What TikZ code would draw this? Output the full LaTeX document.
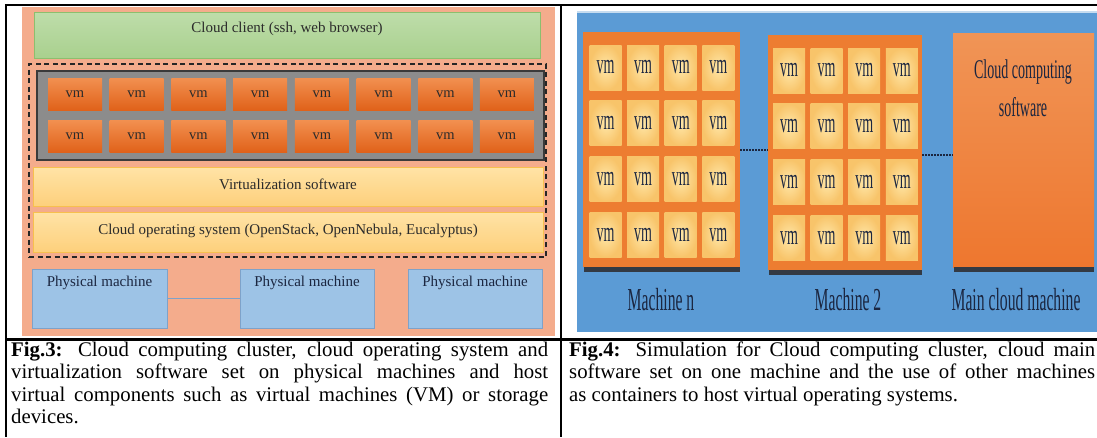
\documentclass[tikz,border=0pt]{standalone}
\usepackage{fontspec}
\setmainfont{Liberation Serif}
\definecolor{salmonc}{HTML}{F4AC8C}
\definecolor{greent}{HTML}{BEDDAA}
\definecolor{greenbt}{HTML}{A9D08E}
\definecolor{greenb}{HTML}{8CBF6E}
\definecolor{grayc}{HTML}{8C8C8C}
\definecolor{grayb}{HTML}{3A3A3A}
\definecolor{vmtop}{HTML}{F29050}
\definecolor{vmbot}{HTML}{E0621A}
\definecolor{yelt}{HTML}{FFE3A6}
\definecolor{yelb}{HTML}{FDD07C}
\definecolor{yelbd}{HTML}{F7C04E}
\definecolor{pmfill}{HTML}{9DC3E6}
\definecolor{pmb}{HTML}{7EA2C9}
\definecolor{bluec}{HTML}{5B9BD5}
\definecolor{orangec}{HTML}{ED7D31}
\definecolor{tileIn}{HTML}{FFE7A8}
\definecolor{tileOut}{HTML}{F8C46A}
\definecolor{navy}{HTML}{1B2640}
\definecolor{darktxt}{HTML}{2B2B2B}
\definecolor{shadowc}{HTML}{333A44}
\newcommand\condtxt[2]{\scalebox{#1}[1]{#2}}
\begin{document}
\begin{tikzpicture}[x=1pt,y=-1pt,
  rect/.style={rectangle, inner sep=0pt, outer sep=0pt},
  lbl/.style={inner sep=0pt, text=darktxt, font=\fontsize{15}{17}\selectfont},
  clientbox/.style={rect, draw=greenb, line width=0.8pt, top color=greent, bottom color=greenbt},
  layerbox/.style={rect, draw=yelbd, line width=0.8pt, top color=yelt, bottom color=yelb},
  vmL/.style={rect, minimum width=54pt, minimum height=32pt, top color=vmtop, bottom color=vmbot, text=darktxt, font=\fontsize{14.5}{16}\selectfont},
  pmbox/.style={rect, draw=pmb, line width=0.8pt, fill=pmfill, minimum width=134pt, minimum height=59pt},
  block/.style={rect, fill=orangec},
  vmR/.style={rect, minimum width=32pt, minimum height=45pt, inner color=tileIn, outer color=tileOut, text=navy, font=\fontsize{28}{28}\selectfont},
  rlbl/.style={inner sep=0pt, text=navy, font=\fontsize{32}{32}\selectfont},
  tbl/.style={line width=2.2pt, black},
  dots/.style={line width=2pt, navy, dash pattern=on 2pt off 1pt}
]
\useasboundingbox (0,0) rectangle (1097,437);
\fill[white] (0,0) rectangle (1097,437);

% ---------- left figure ----------
\node[rect, fill=salmonc, minimum width=533pt, minimum height=329pt] (bgL) at (288.5,171.5) {};
\node[clientbox, minimum width=506pt, minimum height=46pt] (client) at (287,35) {};
\node[lbl] (clientt) at (287,29) {Cloud client (ssh, web browser)};
\node[rect, draw=grayb, line width=1.2pt, fill=grayc, minimum width=507pt, minimum height=89pt] (gray) at (290.5,115.5) {};
\foreach \i in {0,...,7}{
  \node[vmL] (vma\i) at ({75+61.71*\i},94) {vm};
  \node[vmL] (vmb\i) at ({75+61.71*\i},136) {vm};
}
\node[layerbox, minimum width=510pt, minimum height=39pt] (virt) at (288,186.5) {};
\node[lbl] (virtt) at (288,184) {Virtualization software};
\node[layerbox, minimum width=510pt, minimum height=40pt] (cos) at (288,232) {};
\node[lbl] (cost) at (288,231) {Cloud operating system (OpenStack, OpenNebula, Eucalyptus)};
\node[rect, draw=black!85, line width=1.5pt, dash pattern=on 5pt off 3.5pt, minimum width=517pt, minimum height=193pt] (dashr) at (287.5,160.5) {};
\node[pmbox, minimum width=135pt] (pm1) at (99.5,298.5) {};
\node[pmbox] (pm2) at (307,298.5) {};
\node[pmbox] (pm3) at (475,298.5) {};
\draw[pmb, line width=0.8pt] (pm1.east) -- (pm2.west);
\node[lbl, text=navy] (pm1t) at (99.5,283) {Physical machine};
\node[lbl, text=navy] (pm2t) at (307,283) {Physical machine};
\node[lbl, text=navy] (pm3t) at (475,283) {Physical machine};

% ---------- right figure ----------
\node[rect, fill=bluec, minimum width=520pt, minimum height=320pt] (bgR) at (837,172) {};
\draw[white!65!bluec, line width=1.5pt] (bgR.north west) -- (bgR.north east);

\node[block, minimum width=157pt, minimum height=235pt] (mn) at (661.5,149.5) {};
\fill[shadowc] ([xshift=1pt]mn.south west) rectangle ([yshift=-5pt]mn.south east);
\node[block, minimum width=154pt, minimum height=235pt] (m2) at (845,152.5) {};
\fill[shadowc] ([xshift=1pt]m2.south west) rectangle ([yshift=-5pt]m2.south east);
\node[rect, minimum width=141pt, minimum height=234pt, top color=orangec!82!white, bottom color=orangec!95!red] (mc) at (1023.5,150) {};
\fill[shadowc] ([xshift=1pt]mc.south west) rectangle ([yshift=-5pt]mc.south east);

\foreach \i in {0,...,3}{
  \foreach \j in {0,...,3}{
    \node[vmR] (tn\i\j) at ({605.5+37.6*\i},{67.5+55.7*\j}) {\condtxt{0.5}{vm}};
    \node[vmR] (tt\i\j) at ({789+37.6*\i},{70.5+55.7*\j}) {\condtxt{0.5}{vm}};
  }
}
\draw[dots] (mn.east) -- (mn.east -| m2.west);
\draw[dots] ([yshift=-2.5pt]m2.east) -- ([yshift=-2.5pt]m2.east -| mc.west);

\node[rlbl, font=\fontsize{27}{27}\selectfont] (cc1) at (1023,72) {\condtxt{0.52}{Cloud computing}};
\node[rlbl, font=\fontsize{27}{27}\selectfont] (cc2) at (1023,107) {\condtxt{0.52}{software}};
\node[rlbl] (lmn) at (661,300) {\condtxt{0.49}{Machine n}};
\node[rlbl] (lm2) at (848,300) {\condtxt{0.49}{Machine 2}};
\node[rlbl] (lmc) at (1016,300) {\condtxt{0.49}{Main cloud machine}};

% ---------- table ----------
\draw[tbl] (4.9,5) -- (1097,5);
\draw[tbl] (6,5) -- (6,437);
\draw[tbl] (561,5) -- (561,437);
\draw[tbl] (6,339.5) -- (1097,339.5);

% ---------- captions ----------
\node[anchor=base west, inner sep=0pt] (cap3) at (11,356) {\parbox[t]{537pt}{\fontsize{20.8}{22.5}\selectfont
\makebox[537pt][s]{\textbf{Fig.3:} Cloud computing cluster, cloud operating system and}\\
\makebox[537pt][s]{virtualization software set on physical machines and host}\\
\makebox[537pt][s]{virtual components such as virtual machines (VM) or storage}\\
devices.}};
\node[anchor=base west, inner sep=0pt] (cap4) at (569,356) {\parbox[t]{526pt}{\fontsize{20.8}{22.5}\selectfont
\makebox[526pt][s]{\textbf{Fig.4:} Simulation for Cloud computing cluster, cloud main}\\
\makebox[526pt][s]{software set on one machine and the use of other machines}\\
as containers to host virtual operating systems.}};
\end{tikzpicture}
\end{document}
